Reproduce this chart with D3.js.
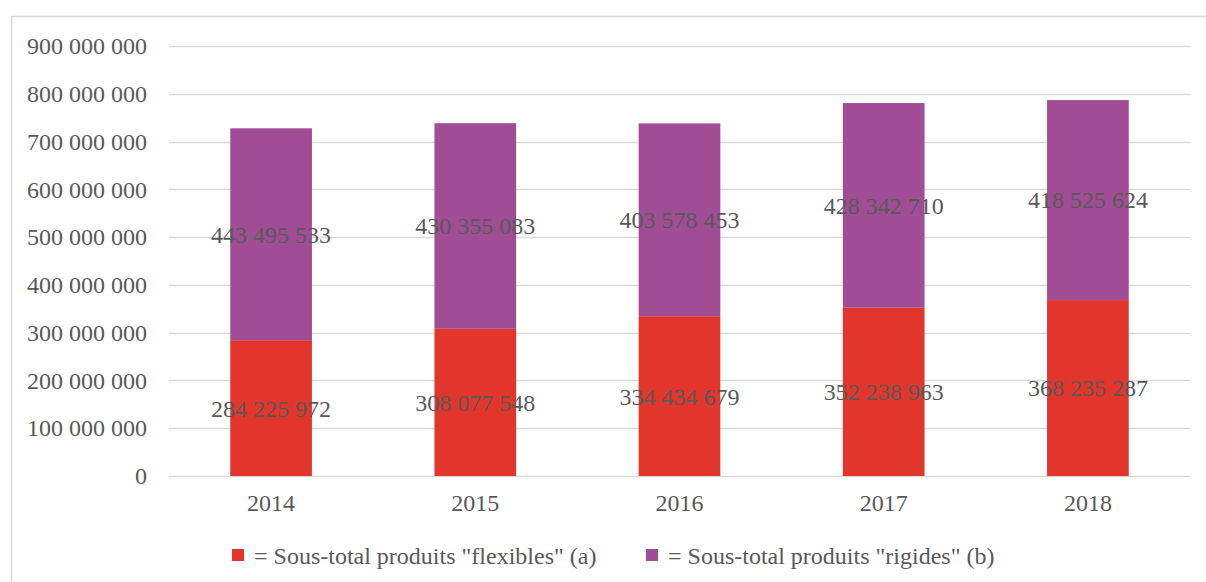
<!DOCTYPE html>
<html>
<head>
<meta charset="utf-8">
<script src="https://cdn.jsdelivr.net/npm/d3@7"></script>
<style>
  html, body { margin: 0; padding: 0; background: #fff; }
  svg { display: block; }
  text { font-family: "Liberation Serif", "Times New Roman", serif; fill: #595959; }
</style>
</head>
<body>
<svg id="chart" width="1206" height="582"></svg>
<script>
// Yearly sub-totals, in units
const years = ["2014", "2015", "2016", "2017", "2018"];
const flexibles = [284225972, 308077548, 334434679, 352238963, 368235287];
const rigides = [443495533, 430355083, 403578453, 428342710, 418525624];
const seriesNames = ['= Sous-total produits "flexibles" (a)', '= Sous-total produits "rigides" (b)'];
const seriesColors = ["#e2352b", "#a04d96"];
const tickValues = [0, 100000000, 200000000, 300000000, 400000000, 500000000, 600000000, 700000000, 800000000, 900000000];

const svg = d3.select("#chart");
const W = 1206, H = 582;
const margin = { left: 169, right: 16, top: 46, bottom: 106 };

// Outer frame (left and top edges visible)
svg.append("path")
  .attr("d", `M11.5,${H} L11.5,16.5 L${W},16.5`)
  .attr("fill", "none").attr("stroke", "#d9d9d9").attr("stroke-width", 1.5);

const x = d3.scaleBand().domain(years).range([margin.left, W - margin.right]).paddingInner(0.6).paddingOuter(0.3);
const y = d3.scaleLinear().domain([0, 900000000]).range([H - margin.bottom, margin.top]);

const fmt = v => d3.format(",")(v).replace(/,/g, " ");

// Gridlines
svg.append("g")
  .selectAll("line").data(tickValues).join("line")
  .attr("x1", margin.left).attr("x2", W - margin.right)
  .attr("y1", d => Math.round(y(d)) + 0.5).attr("y2", d => Math.round(y(d)) + 0.5)
  .attr("stroke", "#d9d9d9").attr("stroke-width", 1.5);

// Y axis labels
const yAxis = svg.append("g").attr("transform", `translate(147,0)`)
  .call(d3.axisLeft(y).tickValues(tickValues).tickFormat(d => d === 0 ? "0" : fmt(d)).tickSize(0).tickPadding(0));
yAxis.select(".domain").remove();
yAxis.selectAll("text").style("font-family", '"Liberation Serif", serif').style("font-size", "24px").attr("fill", "#595959");

// X axis labels
const xAxis = svg.append("g").attr("transform", `translate(0,${H - margin.bottom})`)
  .call(d3.axisBottom(x).tickSize(0).tickPadding(18));
xAxis.select(".domain").remove();
xAxis.selectAll("text").style("font-family", '"Liberation Serif", serif').style("font-size", "24px").attr("fill", "#595959");

// Stacked bars
const rows = years.map((yr, i) => ({ year: yr, flex: flexibles[i], rig: rigides[i] }));
const stack = d3.stack().keys(["flex", "rig"])(rows);

const layers = svg.append("g").selectAll("g").data(stack).join("g")
  .attr("fill", (d, i) => seriesColors[i]);

layers.selectAll("rect").data(d => d).join("rect")
  .attr("x", d => x(d.data.year))
  .attr("width", x.bandwidth())
  .attr("y", d => y(d[1]))
  .attr("height", d => y(d[0]) - y(d[1]));

// Value labels centred in each segment
const labels = svg.append("g");
stack.forEach(layer => {
  layer.forEach(d => {
    labels.append("text")
      .attr("x", x(d.data.year) + x.bandwidth() / 2)
      .attr("y", (y(d[0]) + y(d[1])) / 2)
      .attr("dy", "0.35em")
      .attr("text-anchor", "middle")
      .style("font-size", "24px")
      .text(fmt(d[1] - d[0]));
  });
});

// Legend
const legend = svg.append("g");
const legendX = [232, 646];
seriesNames.forEach((name, i) => {
  legend.append("rect").attr("x", legendX[i]).attr("y", 549).attr("width", 12).attr("height", 12).attr("fill", seriesColors[i]);
  legend.append("text").attr("x", legendX[i] + 22).attr("y", 564).style("font-size", "24px").text(name);
});
</script>
</body>
</html>
